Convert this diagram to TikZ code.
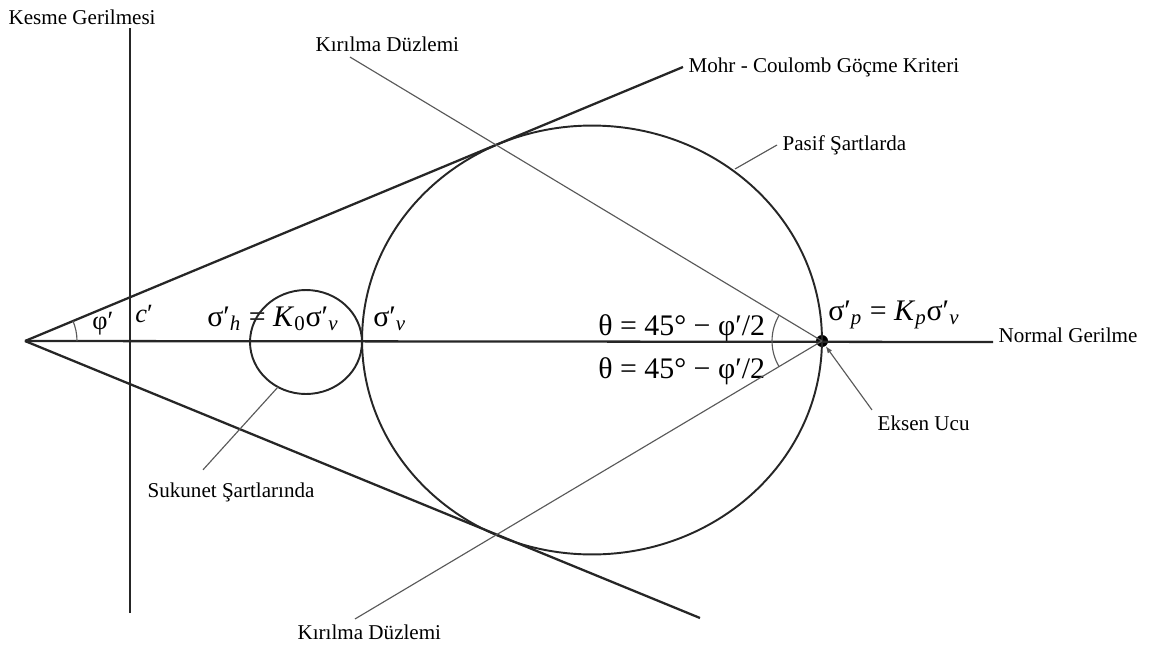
\documentclass[tikz,border=0pt]{standalone}
\usepackage{fontspec}
\setmainfont{Liberation Serif}
\usetikzlibrary{arrows.meta,calc}

\begin{document}
\begin{tikzpicture}[x=0.02cm, y=-0.02cm,
  axis/.style={draw=black!85, line width=1.3pt},
  circ/.style={draw=black!85, line width=1.1pt},
  plane/.style={draw=black!65, line width=0.65pt},
  lbl/.style={anchor=west, inner sep=3pt, font=\fontsize{12}{14}\selectfont},
  eq/.style={anchor=base west, inner sep=0pt, font=\fontsize{17}{20}\selectfont},
  sm/.style={anchor=base west, inner sep=0pt, font=\fontsize{15}{18}\selectfont},
  dot/.style={circle, fill=black, inner sep=0pt, minimum size=0.24cm}
]
  \useasboundingbox (0,0) rectangle (1149,646);
  \coordinate (apex) at (25,341);
  \coordinate (vTop) at (130,28);
  \coordinate (vBot) at (130,613);
  \coordinate (altUc) at (700,618);
  \node[dot] (ucu) at (822,341) {};

  \node[lbl] (kesme) at (3,17) {Kesme Gerilmesi};
  \node[lbl, anchor=base west] (normal) at (993,342) {Normal Gerilme};
  \node[lbl] (mohr) at (683,67) {Mohr - Coulomb Göçme Kriteri};
  \node[lbl] (kirUst) at (310,44) {Kırılma Düzlemi};
  \node[lbl] (kirAlt) at (292,632) {Kırılma Düzlemi};
  \node[lbl] (pasif) at (777,145) {Pasif Şartlarda};
  \node[lbl] (sukunet) at (142,492) {Sukunet Şartlarında};
  \node[lbl] (eksen) at (872,423) {Eksen Ucu};

  \node[sm] (phi) at (92,329) {φ′};
  \node[sm] (c) at (135,322) {\textit{c}′};
  \node[eq] (sh) at (207,326) {σ′\textsubscript{\textit{h}} = \textit{K}\textsubscript{0}σ′\textsubscript{\textit{v}}};
  \node[eq] (sv) at (373,326) {σ′\textsubscript{\textit{v}}};
  \node[eq] (sp) at (828,320) {σ′\textsubscript{\textit{p}} = \textit{K}\textsubscript{\textit{p}}σ′\textsubscript{\textit{v}}};
  \node[eq] (thUst) at (598,335) {θ = 45° − φ′/2};
  \node[eq] (thAlt) at (598,378) {θ = 45° − φ′/2};

  \draw[circ] (592,340) ellipse[x radius=4.6cm, y radius=4.29cm];
  \draw[circ] (306,342) ellipse[x radius=1.12cm, y radius=1.04cm];
  \coordinate (pasifP) at (735,169);
  \coordinate (sukunetP) at (278,387);

  \draw[axis] (apex) -- (normal.base west);
  \draw[axis] (vBot) -- (vTop);
  \draw[axis] (apex) -- (mohr.west);
  \draw[axis] (apex) -- (altUc);

  \draw[plane] (ucu.center) -- ($(kirUst.south west)+(40,0)$);
  \draw[plane] (ucu.center) -- ($(kirAlt.north west)+(63,0)$);
  \draw[plane] (pasifP) -- (pasif.west);
  \draw[plane] (sukunetP) -- ($(sukunet.north west)+(61,-7)$);
  \draw[plane, -{Latex[length=4pt]}] (eksen.north west) -- (ucu);

  \draw[plane] ([shift={(52,0)}]apex) arc[start angle=0, end angle=22.8, radius=1.04cm];
  \draw[plane] ([shift={(148.8:1cm)}]ucu.center) arc[start angle=148.8, end angle=210.9, radius=1cm];
\end{tikzpicture}
\end{document}
